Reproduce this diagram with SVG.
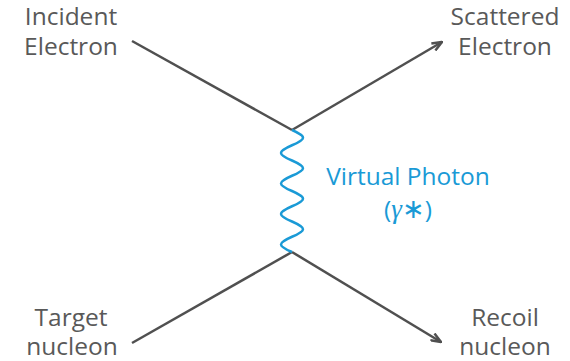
<svg xmlns="http://www.w3.org/2000/svg" width="570" height="361" viewBox="0 0 570 361">
<style>
.lbl{font-family:"Open Sans","Liberation Sans",sans-serif;font-size:24.5px;fill:#595959;text-anchor:middle}
.blue{fill:#1a9ad6}
.line{stroke:#505050;stroke-width:2.5;fill:none;stroke-linecap:butt}
.wave{stroke:#1a9ad6;stroke-width:2.5;fill:none}
</style>
<defs>
<marker id="arr" viewBox="0 0 12 10" refX="11" refY="5" markerWidth="12" markerHeight="10" markerUnits="userSpaceOnUse" orient="auto">
<path d="M1,1 L11,5 L1,9" fill="none" stroke="#505050" stroke-width="2.5" stroke-linejoin="miter"/>
</marker>
</defs>
<rect width="570" height="361" fill="#ffffff"/>
<g id="connectors">
<line class="line" x1="132" y1="41" x2="292" y2="130"/>
<line class="line" x1="292" y1="130" x2="442" y2="42" marker-end="url(#arr)"/>
<line class="line" x1="132" y1="343" x2="292" y2="252"/>
<line class="line" x1="292" y1="252" x2="441" y2="342" marker-end="url(#arr)"/>
<path class="wave" d="M292,130 C306.67,136.47 306.67,138.78 292,145.25 S277.33,154.03 292,160.5 S306.67,169.28 292,175.75 S277.33,184.53 292,191 S306.67,199.78 292,206.25 S277.33,215.03 292,221.5 S306.67,230.28 292,236.75 S277.33,245.53 292,252"/>
</g>
<g id="incident">
<text class="lbl" x="71" y="25">Incident</text>
<text class="lbl" x="71" y="55">Electron</text>
</g>
<g id="scattered">
<text class="lbl" x="505" y="25">Scattered</text>
<text class="lbl" x="505" y="55">Electron</text>
</g>
<g id="target">
<text class="lbl" x="71" y="326">Target</text>
<text class="lbl" x="72" y="355">nucleon</text>
</g>
<g id="recoil">
<text class="lbl" x="505" y="326">Recoil</text>
<text class="lbl" x="505" y="355">nucleon</text>
</g>
<g id="photon">
<text class="lbl blue" x="408" y="185">Virtual Photon</text>
<text class="lbl blue" x="408" y="218"><tspan>(</tspan><tspan font-family="'Liberation Serif',serif" font-style="italic" font-size="27px">γ</tspan><tspan font-family="'Liberation Serif',serif" font-size="27px">∗</tspan><tspan>)</tspan></text>
</g>
</svg>
